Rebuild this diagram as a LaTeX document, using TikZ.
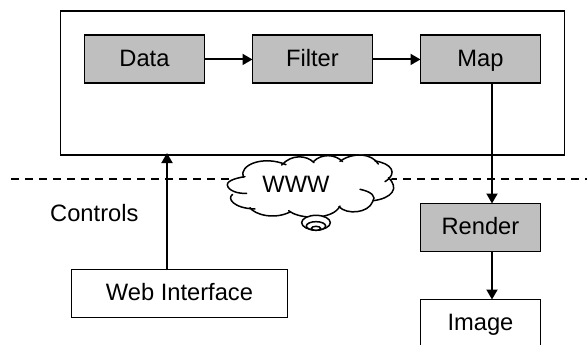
\documentclass[tikz,border=0pt]{standalone}
\usepackage{fontspec}
\setmainfont{Liberation Sans}
\usetikzlibrary{arrows.meta}
\tikzset{
  box/.style={draw=black,line width=1.9pt,minimum width=120pt,minimum height=48pt,inner sep=0pt,font=\fontsize{23.7}{26}\selectfont,text height=17pt,text depth=2pt,anchor=north west},
  grey/.style={box,fill=black!25},
  conn/.style={draw=black,line width=1.9pt,-{Triangle[length=10pt,width=11pt]},shorten >=-1pt},
  lbl/.style={font=\fontsize{23.7}{26}\selectfont,inner sep=0pt},
  cl/.style={draw=black,line width=1.5pt,line cap=round}
}
\begin{document}
\begin{tikzpicture}[x=1pt,y=-1pt]
\useasboundingbox (0,0) rectangle (587,345);
\clip (0,0) rectangle (587,345);
\draw[line width=2pt,dash pattern=on 8pt off 6pt] (11,178.7) -- (587,178.7);
\node[box,minimum width=504pt,minimum height=143.5pt] (outer) at (59.5,10.5) {};
\node[grey] (data) at (83.5,34.5) {Data};
\node[grey] (filter) at (251.5,34.5) {Filter};
\node[grey] (map) at (419.5,34.5) {Map};
\node[grey] (render) at (419.5,202.5) {Render};
\node[box] (image) at (419.5,298.5) {Image};
\node[box,minimum width=216pt] (web) at (70.5,268.5) {Web Interface};
\coordinate (ctop) at (167,154);
\coordinate (cx) at (492,0);
\draw[conn] (data) -- (filter);
\draw[conn] (filter) -- (map);
\draw[conn] (map.south -| cx) -- (render.north -| cx);
\draw[conn] (render.south -| cx) -- (image.north -| cx);
\draw[conn] (web.north -| ctop) -- (ctop);
% cloud
\begin{scope}[shift={(200,140)},x=0.3333pt,y=-0.3333pt]
\fill[white] (135,160) .. controls (70,160) and (60,120) .. (130,110)
  .. controls (110,70) and (190,45) .. (250,70)
  .. controls (275,40) and (320,45) .. (340,65)
  .. controls (365,40) and (405,42) .. (425,62)
  .. controls (460,35) and (515,40) .. (530,65)
  .. controls (575,70) and (595,100) .. (570,120)
  .. controls (600,145) and (575,175) .. (520,182)
  .. controls (515,215) and (440,230) .. (417,205)
  .. controls (400,240) and (300,240) .. (268,212)
  .. controls (225,240) and (165,225) .. (155,205)
  .. controls (100,200) and (80,175) .. (98,163) -- cycle;
\draw[cl] (135,110) .. controls (120,112) and (80,120) .. (82,135) .. controls (84,152) and (115,162) .. (140,160);
\draw[cl] (130,112) .. controls (115,75) and (190,45) .. (258,74);
\draw[cl] (245,75) .. controls (275,42) and (320,45) .. (342,68);
\draw[cl] (340,65) .. controls (365,40) and (405,42) .. (428,65);
\draw[cl] (420,64) .. controls (460,35) and (515,40) .. (535,72);
\draw[cl] (525,63) .. controls (575,70) and (595,100) .. (555,125);
\draw[cl] (565,113) .. controls (600,145) and (575,175) .. (520,182);
\draw[cl] (480,148) .. controls (515,155) and (530,170) .. (518,185) .. controls (505,220) and (440,225) .. (417,200);
\draw[cl] (420,198) .. controls (400,240) and (300,240) .. (266,212);
\draw[cl] (272,215) .. controls (225,240) and (165,225) .. (150,203);
\draw[cl] (165,207) .. controls (100,205) and (80,175) .. (98,163);
\draw[cl,fill=white] (348,248) ellipse (43 and 22);
\draw[cl,fill=white] (348,258) ellipse (29 and 13);
\draw[cl,fill=white] (348,265) ellipse (14 and 6);
\end{scope}
\node[lbl] (www) at (296,184) {WWW};
\node[lbl,anchor=west] (controls) at (50,213.5) {Controls};
\end{tikzpicture}
\end{document}
